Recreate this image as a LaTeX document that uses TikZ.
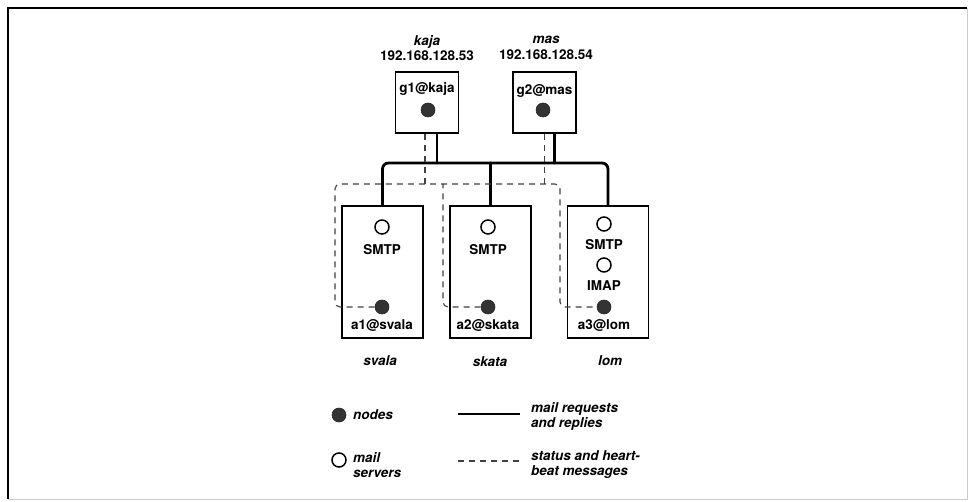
\documentclass[tikz,border=0pt]{standalone}
\usepackage{fontspec}
\setmainfont{TeX Gyre Heros}
\usepackage{tikz}

\begin{document}
\begin{tikzpicture}[
    x=1pt, y=-1pt,
    % estilo de texto general
    every node/.style={font=\fontsize{13.5}{15.5}\selectfont\bfseries},
    % cajas de las maquinas
    caja/.style={draw=black, line width=1.8pt, minimum width=63pt, minimum height=61pt, inner sep=0pt},
    cajaServidor/.style={caja, minimum width=81pt, minimum height=132pt},
    % nodos (circulo lleno) y servidores de correo (circulo vacio)
    nodo/.style={circle, fill=black!80, draw=black!85, line width=0.6pt, minimum size=14pt, inner sep=0pt},
    servidor/.style={circle, draw=black, line width=1.5pt, fill=white, minimum size=14pt, inner sep=0pt},
    etiqueta/.style={inner sep=1pt},
    maquina/.style={inner sep=1pt, font=\fontsize{13.5}{15.5}\selectfont\bfseries\itshape},
    % conexiones
    bus/.style={line width=2.8pt, line cap=round, rounded corners=6pt},
    latido/.style={dashed, dash pattern=on 6pt off 5pt, line width=1.1pt, color=black!75, rounded corners=5pt}
]
    \useasboundingbox (0,0) rectangle (973,502);

    % --- MARCO ---
    \draw[line width=1.8pt] (8,499) -- (8,8) -- (967,8);
    \draw[line width=0.8pt, black!20] (967,8) -- (967,499) -- (8,499);

    % --- PASARELAS (kaja y mas) ---
    \node[caja] (kaja) at (427,102.5) {};
    \node[caja] (mas)  at (544.5,102.5) {};
    \node[maquina, align=center] (kajaNombre) at (427,48) {kaja\\ \upshape 192.168.128.53};
    \node[maquina, align=center] (masNombre)  at (546,48) {mas\\ \upshape 192.168.128.54};
    \node[etiqueta] (g1l) at (427,89) {g1@kaja};
    \node[etiqueta] (g2l) at (544.5,91) {g2@mas};
    \node[nodo] (g1) at (428,110) {};
    \node[nodo] (g2) at (543,110) {};

    % --- SERVIDORES (svala, skata, lom) ---
    \node[cajaServidor] (svala) at (382.5,272) {};
    \node[cajaServidor] (skata) at (490.5,272) {};
    \node[cajaServidor] (lom)   at (608,272) {};

    \node[servidor] (smtp1) at (382,227) {};
    \node[etiqueta] (smtp1l) at (382,250) {SMTP};
    \node[nodo] (a1) at (382,307) {};
    \node[etiqueta] (a1l) at (382,325) {a1@svala};

    \node[servidor] (smtp2) at (488,227) {};
    \node[etiqueta] (smtp2l) at (488,250) {SMTP};
    \node[nodo] (a2) at (488,307) {};
    \node[etiqueta] (a2l) at (488,325) {a2@skata};

    \node[servidor] (smtp3) at (604,224) {};
    \node[etiqueta] (smtp3l) at (604,245) {SMTP};
    \node[servidor] (imap3) at (604,265) {};
    \node[etiqueta] (imap3l) at (604,286) {IMAP};
    \node[nodo] (a3) at (604,307) {};
    \node[etiqueta] (a3l) at (604,325) {a3@lom};

    \node[maquina] (svalaNombre) at (380,361) {svala};
    \node[maquina] (skataNombre) at (490,362) {skata};
    \node[maquina] (lomNombre)   at (610,361) {lom};

    % --- BUS DE PETICIONES DE CORREO ---
    \coordinate (bus) at (0,163);
    \coordinate (kajaSal) at ([xshift=10pt]kaja.south);
    \coordinate (masSal)  at ([xshift=10pt]mas.south);
    \draw[bus] (svala.north) |- (bus -| lom.north) -- (lom.north);
    \draw[bus] (skata.north) -- (skata.north |- bus);
    \draw[bus] (kajaSal) -- (kajaSal |- bus);
    \draw[bus] (masSal) -- (masSal |- bus);

    % --- MENSAJES DE ESTADO Y LATIDO ---
    \coordinate (latIzq) at (335,184);
    \coordinate (latMed) at (443,184);
    \coordinate (latDer) at (560,184);
    \draw[latido] (a1.west) -| (latIzq) -- (latDer) |- (a3.west);
    \draw[latido] (a2.west) -| (latMed);
    \draw[latido] ([xshift=-2pt]kaja.south) -- ([xshift=-2pt]kaja.south |- latIzq);
    \draw[latido] (mas.south) -- (mas.south |- latIzq);

    % --- LEYENDA ---
    \node[nodo] (legNodo) at (339,415) {};
    \node[maquina, anchor=west] (legNodoT) at (352,415) {nodes};
    \node[servidor] (legServ) at (339,460) {};
    \node[maquina, anchor=north west, align=left] (legServT) at (352,451) {mail\\servers};

    \coordinate (legBusA) at (458,414);
    \coordinate (legBusB) at (520,414);
    \draw[line width=2.8pt] (legBusA) -- (legBusB);
    \node[maquina, anchor=north west, align=left] (legBusT) at (530,401) {mail requests\\and replies};

    \coordinate (legLatA) at (458,461);
    \coordinate (legLatB) at (520,461);
    \draw[latido] (legLatA) -- (legLatB);
    \node[maquina, anchor=north west, align=left] (legLatT) at (530,449) {status and heart-\\beat messages};

\end{tikzpicture}
\end{document}
